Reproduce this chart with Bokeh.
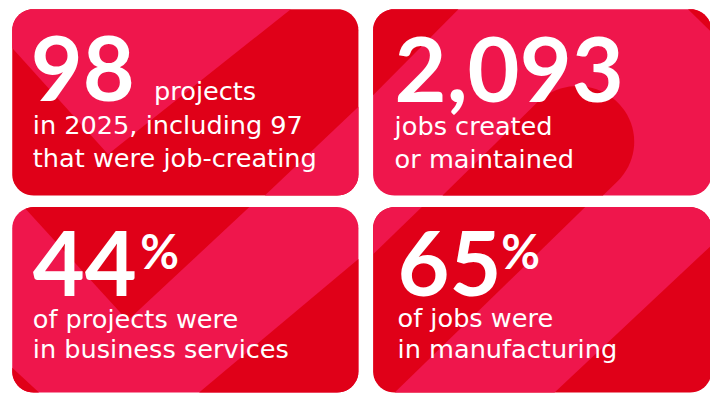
import numpy as np
from bokeh.plotting import figure
from bokeh.models import Range1d
from bokeh.core.properties import value
from bokeh.embed import file_html
from bokeh.resources import INLINE

# ---------------- data ----------------
big_numbers = ["98", "2,093", "44", "65"]
big_suffix = ["", "", "%", "%"]
inline_label = ["projects", "", "", ""]
caption_line1 = ["in 2025, including 97", "jobs created", "of projects were", "of jobs were"]
caption_line2 = ["that were job-creating", "or maintained", "in business services", "in manufacturing"]

# ---------------- layout / style ----------------
DARK = "#E00018"
PINK = "#EF164C"
BIG_FONT = "Lato"
CAP_FONT = "DejaVu Sans"
RADIUS = 22
W, H = 726, 410          # reference coordinate space
PW, PH = 710, 394        # figure size in pixels
SY = PH / H
FS = 0.965               # font scale
K_SHIFT = 0.36           # baseline compensation (fraction of font size)

BIG_PX = 93 * FS
SUF_PX = 49 * FS
CAP_PX = 26.5 * FS

cards = [(12, 9, 366, 203), (381, 9, 727, 203), (12, 215, 366, 408), (381, 215, 727, 408)]
card_base = [DARK, PINK, PINK, DARK]


def capsule(cx, cy, r, length, n=40):
    pts = []
    for a in np.linspace(np.radians(-135), np.radians(45), n):
        pts.append((cx + r * np.cos(a), cy + r * np.sin(a)))
    fx, fy = cx - length, cy + length
    s = r / np.sqrt(2)
    pts.append((fx + s, fy + s))
    pts.append((fx - s, fy - s))
    return pts


overlays = [
    [([(0, 36), (110, 160), (308, 0), (0, 0)], PINK),
     ([(262, 211), (380, 97), (380, 211)], PINK)],
    [([(370, 110), (477, 0), (370, 0)], DARK),
     ([(694, 0), (760, 0), (760, 66)], DARK),
     (capsule(590, 147, 58, 250), DARK)],
    [([(15, 205), (130, 333), (265, 205)], DARK),
     ([(0, 371), (50, 418), (0, 418)], DARK),
     ([(189, 420), (380, 257), (380, 420)], DARK)],
    [([(370, 275), (441, 205), (370, 205)], PINK),
     ([(608, 205), (779, 205), (554, 420), (391, 420)], PINK)],
]

big_x = [31, 403, 33, 406]
big_base = [104, 105, 307, 307]
suffix_x = [143, 143, 143, 512]
suffix_base = [278, 278, 278, 278]
inline_x = [157, 0, 0, 0]
inline_base = [104, 0, 0, 0]
cap_x = [33, 403, 33, 406]
cap1_base = [139, 140, 341, 340]
cap2_base = [173, 175, 372, 372]


def rounded_rect(x0, y0, x1, y1, r, n=12):
    pts = []
    corners = [(x1 - r, y0 + r, -90, 0), (x1 - r, y1 - r, 0, 90),
               (x0 + r, y1 - r, 90, 180), (x0 + r, y0 + r, 180, 270)]
    for cx, cy, a0, a1 in corners:
        for a in np.linspace(np.radians(a0), np.radians(a1), n):
            pts.append((cx + r * np.cos(a), cy + r * np.sin(a)))
    return pts


def clip_poly(subject, clipper):
    area = 0.0
    for i in range(len(clipper)):
        x1, y1 = clipper[i]
        x2, y2 = clipper[(i + 1) % len(clipper)]
        area += x1 * y2 - x2 * y1
    sgn = 1 if area > 0 else -1

    def inside(p, a, b):
        return sgn * ((b[0] - a[0]) * (p[1] - a[1]) - (b[1] - a[1]) * (p[0] - a[0])) >= 0

    def inter(p, q, a, b):
        x1, y1 = p; x2, y2 = q; x3, y3 = a; x4, y4 = b
        den = (x1 - x2) * (y3 - y4) - (y1 - y2) * (x3 - x4)
        t = ((x1 - x3) * (y3 - y4) - (y1 - y3) * (x3 - x4)) / den
        return (x1 + t * (x2 - x1), y1 + t * (y2 - y1))

    out = list(subject)
    for i in range(len(clipper)):
        a = clipper[i]
        b = clipper[(i + 1) % len(clipper)]
        inp = out
        out = []
        if not inp:
            break
        prev = inp[-1]
        for cur in inp:
            if inside(cur, a, b):
                if not inside(prev, a, b):
                    out.append(inter(prev, cur, a, b))
                out.append(cur)
            elif inside(prev, a, b):
                out.append(inter(prev, cur, a, b))
            prev = cur
    return out


def shifted(bases, px):
    return [b - K_SHIFT * px / SY for b in bases]


p = figure(width=PW, height=PH, x_range=Range1d(0, W), y_range=Range1d(H, 0),
           x_axis_type=None, y_axis_type=None, toolbar_location=None,
           output_backend="svg", min_border=0)
p.grid.visible = False
p.outline_line_color = None
p.background_fill_color = "white"
p.border_fill_color = "white"

xs, ys, cols = [], [], []
for i, rect in enumerate(cards):
    rr = rounded_rect(*rect, RADIUS)
    xs.append([q[0] for q in rr]); ys.append([q[1] for q in rr]); cols.append(card_base[i])
    for poly, col in overlays[i]:
        cp = clip_poly(poly, rr)
        if len(cp) >= 3:
            xs.append([q[0] for q in cp]); ys.append([q[1] for q in cp]); cols.append(col)

p.patches(xs=xs, ys=ys, fill_color=cols, line_color=None)

p.text(x=big_x, y=shifted(big_base, BIG_PX), text=big_numbers, text_font=value(BIG_FONT),
       text_font_style="bold", text_font_size=f"{BIG_PX:.1f}px", text_color="white",
       text_baseline="alphabetic", text_align="left")

idx = [i for i in range(4) if big_suffix[i]]
p.text(x=[suffix_x[i] for i in idx], y=shifted([suffix_base[i] for i in idx], SUF_PX),
       text=[big_suffix[i] for i in idx], text_font=value(BIG_FONT), text_font_style="bold",
       text_font_size=f"{SUF_PX:.1f}px", text_color="white", text_baseline="alphabetic",
       text_align="left")

idx = [i for i in range(4) if inline_label[i]]
p.text(x=[inline_x[i] for i in idx], y=shifted([inline_base[i] for i in idx], CAP_PX),
       text=[inline_label[i] for i in idx], text_font=value(CAP_FONT),
       text_font_size=f"{CAP_PX:.1f}px", text_color="white", text_baseline="alphabetic",
       text_align="left")

p.text(x=cap_x, y=shifted(cap1_base, CAP_PX), text=caption_line1, text_font=value(CAP_FONT),
       text_font_size=f"{CAP_PX:.1f}px", text_color="white", text_baseline="alphabetic",
       text_align="left")
p.text(x=cap_x, y=shifted(cap2_base, CAP_PX), text=caption_line2, text_font=value(CAP_FONT),
       text_font_size=f"{CAP_PX:.1f}px", text_color="white", text_baseline="alphabetic",
       text_align="left")

open("out.html", "w").write(file_html(p, INLINE))
